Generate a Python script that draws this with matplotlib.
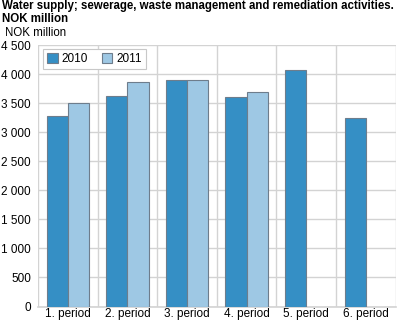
import matplotlib
matplotlib.use("Agg")
import matplotlib.pyplot as plt
import numpy as np

plt.rcParams['font.family'] = ['Liberation Sans', 'DejaVu Sans']

categories = ["1. period", "2. period", "3. period", "4. period", "5. period", "6. period"]
values_2010 = [3273, 3628, 3898, 3600, 4075, 3249]
values_2011 = [3497, 3858, 3904, 3686, np.nan, np.nan]
yticks = [0, 500, 1000, 1500, 2000, 2500, 3000, 3500, 4000, 4500]
ytick_labels = ["0", "500", "1 000", "1 500", "2 000", "2 500", "3 000", "3 500", "4 000", "4 500"]

c2010 = "#358fc5"
c2011 = "#9ec8e4"
edge = "#6e7d8c"

fig = plt.figure(figsize=(3.97, 3.23), dpi=100)
ax = fig.add_axes([38 / 397, 1 - 306.5 / 323, 357.5 / 397, 261.5 / 323])

x = np.arange(len(categories))
w = 0.355
ax.bar(x - w / 2, values_2010, w, color=c2010, edgecolor=edge, linewidth=0.8, label="2010", zorder=3)
ax.bar(x + w / 2, values_2011, w, color=c2011, edgecolor=edge, linewidth=0.8, label="2011", zorder=3)

ax.set_xlim(-0.5, len(categories) - 0.5)
ax.set_ylim(0, 4500)
ax.set_yticks(yticks)
ax.set_yticklabels(ytick_labels)
ax.set_xticks(x)
ax.set_xticklabels(categories)
ax.set_xticks(np.arange(len(categories) + 1) - 0.5, minor=True)

ax.grid(axis="y", which="major", color="#d3d3d3", linewidth=1, zorder=0)
ax.grid(axis="x", which="minor", color="#d3d3d3", linewidth=1, zorder=0)
ax.tick_params(axis="both", which="both", length=0, labelsize=8.5, colors="#000000")
ax.tick_params(axis="x", pad=1)
ax.tick_params(axis="y", pad=5)
for side in ["top", "right", "left"]:
    ax.spines[side].set_visible(False)
ax.spines["bottom"].set_color("#d3d3d3")
ax.spines["bottom"].set_linewidth(1.2)

leg = ax.legend(loc="upper left", bbox_to_anchor=(0.014, 0.986), ncol=2, fontsize=8.5,
                frameon=True, fancybox=False, edgecolor="#c8c8c8", framealpha=1,
                handlelength=0.9, handleheight=0.9, handletextpad=0.3, columnspacing=1.2,
                borderpad=0.35, borderaxespad=0)
leg.get_frame().set_linewidth(0.8)

fig.text(2 / 397, 1 - 0.5 / 323, "Water supply; sewerage, waste management and remediation activities.\nNOK million",
         fontsize=8.3, fontweight="bold", va="top", ha="left", linespacing=1.0)
fig.text(5 / 397, 1 - 33.5 / 323, "NOK million", fontsize=8.3, va="center", ha="left")

fig.savefig("out.png", dpi=100)
